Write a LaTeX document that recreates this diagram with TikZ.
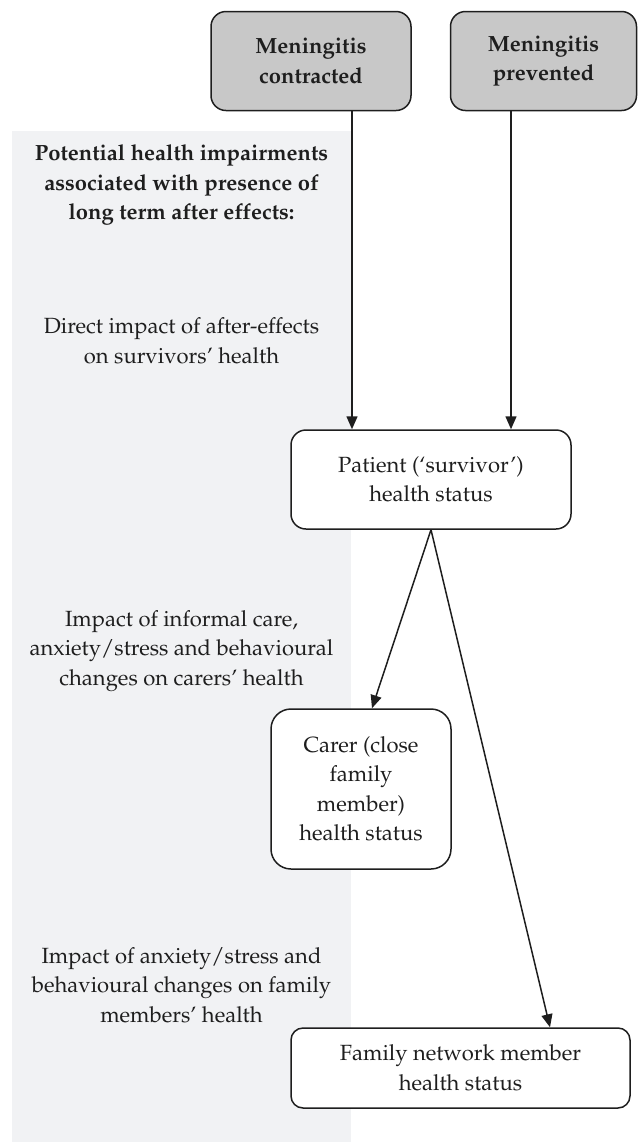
\documentclass[tikz,border=0pt]{standalone}
\usepackage[T1]{fontenc}
\usepackage{mathpazo}
\usetikzlibrary{arrows.meta}
\definecolor{panelgray}{RGB}{241,242,244}
\definecolor{boxgray}{RGB}{200,200,200}
\definecolor{ink}{RGB}{30,30,30}
\begin{document}
\begin{tikzpicture}[x=0.5pt,y=-0.5pt,
  txt/.style={font=\fontsize{11}{14.75}\selectfont, text=ink, align=center, inner sep=0pt},
  box/.style={txt, draw=ink, fill=white, line width=0.75pt, rounded corners=7.5pt},
  topbox/.style={box, fill=boxgray, font=\fontsize{11}{14.75}\selectfont\bfseries},
  note/.style={txt},
  arr/.style={draw=ink, line width=0.75pt, -{Triangle[length=6.5pt,width=5.5pt]}}
]
\useasboundingbox (0,0) rectangle (638,1142);
\fill[panelgray] (12,131) rectangle (351,1142);

\node[topbox, minimum width=100pt, minimum height=49.5pt] (contracted) at (311,61) {Meningitis\\contracted};
\node[topbox, minimum width=93pt, minimum height=49.5pt] (prevented) at (543.5,61) {Meningitis\\prevented};
\node[box, minimum width=140pt, minimum height=49.5pt] (patient) at (431,479.5) {Patient (`survivor')\\health status};
\node[box, rounded corners=10pt, minimum width=90pt, minimum height=80pt] (carer) at (361,789) {Carer (close\\family\\member)\\health status};
\node[box, rounded corners=6pt, minimum width=169.5pt, minimum height=40pt] (family) at (460.5,1068) {Family network member\\health status};

\node[note, font=\fontsize{11}{14.75}\selectfont\bfseries] (heading) at (181.5,185) {Potential health impairments\\associated with presence of\\long term after effects:};
\node[note] (direct) at (181.5,341) {Direct impact of after-effects\\on survivors' health};
\node[note] (informal) at (181.5,651) {Impact of informal care,\\anxiety/stress and behavioural\\changes on carers' health};
\node[note] (anxiety) at (181.5,985) {Impact of anxiety/stress and\\behavioural changes on family\\members' health};

\draw[arr] ([xshift=20.5pt]contracted.south) -- ([xshift=20.5pt]contracted.south |- patient.north);
\draw[arr] ([xshift=-16.25pt]prevented.south) -- ([xshift=-16.25pt]prevented.south |- patient.north);
\draw[arr] (patient.south) -- ([xshift=5.5pt]carer.north);
\draw[arr] (patient.south) -- ([xshift=44.75pt]family.north);
\end{tikzpicture}
\end{document}
